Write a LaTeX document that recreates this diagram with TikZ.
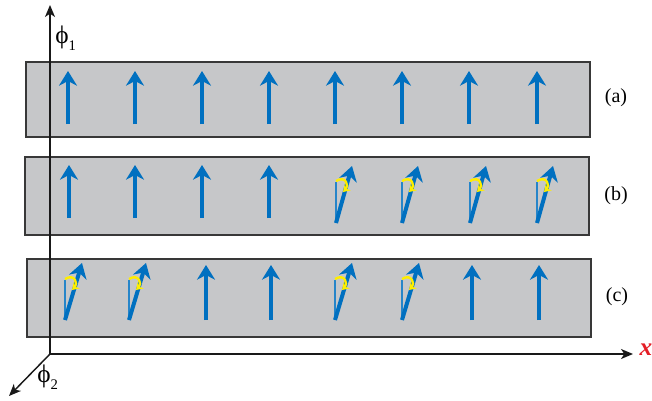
\documentclass[tikz,border=0pt]{standalone}
\usepackage{fontspec}
\setmainfont{Liberation Serif}
\usetikzlibrary{arrows.meta}

\definecolor{spinblue}{RGB}{0,112,192}
\definecolor{bandgray}{RGB}{198,199,201}
\definecolor{twistyellow}{RGB}{255,238,0}
\definecolor{axisred}{RGB}{228,30,38}

\begin{document}
\begin{tikzpicture}[x=0.75pt,y=-0.75pt,>={Stealth[length=9pt,width=7.5pt,inset=2.5pt]},
  band/.style={draw=black!78,line width=1pt,fill=bandgray},
  axis/.style={black!90,line width=1.1pt,->},
  spin/.style={spinblue,line width=3pt,-{Stealth[length=11pt,width=13.5pt,inset=3.5pt]}},
  ref/.style={spinblue!85,line width=1.1pt},
  twist/.style={twistyellow,line width=1.8pt,-{Stealth[length=5pt,width=6.5pt]}},
  lab/.style={font=\fontsize{15}{17}\selectfont},
  phi/.style={font=\fontsize{19}{21}\selectfont}]

\useasboundingbox (0,0) rectangle (652,400);

% bands
\draw[band](26,62) rectangle (590,137);
\draw[band](25,157) rectangle (589,235);
\draw[band](27,259) rectangle (591,337);

% axes
\coordinate (O) at (50,354);
\coordinate (P1) at (50,5);
\coordinate (X) at (633,354);
\coordinate (P2) at (9,396);
\draw[axis](O)--(P1);
\draw[axis](O)--(X);
\draw[axis](O)--(P2);

\node[phi,anchor=west,inner sep=0pt] (phione) at (55,38) {ϕ\raisebox{-0.6ex}{\fontsize{11}{12}\selectfont 1}};
\node[phi,anchor=west,inner sep=0pt] (phitwo) at (37,377) {ϕ\raisebox{-0.6ex}{\fontsize{11}{12}\selectfont 2}};
\node[anchor=west,text=axisred,font=\fontsize{19}{20}\selectfont\bfseries\itshape] (xlab) at (635,350) {x};

\node[lab] (la) at (616,98) {(a)};
\node[lab] (lb) at (616,196) {(b)};
\node[lab] (lc) at (617,297) {(c)};

% row (a): all upright
\foreach \x [count=\i] in {68,135,202,269,335,402,469,537}{
  \coordinate (a\i-tail) at (\x,124);
  \coordinate (a\i-tip) at (\x,71);
  \draw[spin](a\i-tail)--(a\i-tip);
}

% row (b): right half tilted
\foreach \x [count=\i] in {69,135,202,269,336,402,470,537}{
  \ifnum\i<5
    \coordinate (b\i-tail) at (\x,218);
    \coordinate (b\i-tip) at (\x,165);
    \draw[spin](b\i-tail)--(b\i-tip);
  \else
    \coordinate (b\i-tail) at (\x,223);
    \coordinate (b\i-tip) at (\x+16,166);
    \coordinate (b\i-ref) at (\x,182);
    \draw[ref](b\i-tail)--(b\i-ref);
    \draw[spin](b\i-tail)--(b\i-tip);
    \draw[twist]([shift={(0,-1)}]b\i-ref) .. controls ([shift={(10,-7)}]b\i-ref) and ([shift={(13,4)}]b\i-ref) .. ([shift={(7,10)}]b\i-ref);
  \fi
}

% row (c): pairs tilted
\foreach \x/\t [count=\i] in {65/1,129/1,206/0,271/0,335/1,402/1,472/0,539/0}{
  \ifnum\t=0
    \coordinate (c\i-tail) at (\x,320);
    \coordinate (c\i-tip) at (\x,265);
    \draw[spin](c\i-tail)--(c\i-tip);
  \else
    \coordinate (c\i-tail) at (\x,320);
    \coordinate (c\i-tip) at (\x+17,263);
    \coordinate (c\i-ref) at (\x,280);
    \draw[ref](c\i-tail)--(c\i-ref);
    \draw[spin](c\i-tail)--(c\i-tip);
    \draw[twist]([shift={(0,-1)}]c\i-ref) .. controls ([shift={(10,-7)}]c\i-ref) and ([shift={(13,4)}]c\i-ref) .. ([shift={(7,10)}]c\i-ref);
  \fi
}

\end{tikzpicture}
\end{document}
